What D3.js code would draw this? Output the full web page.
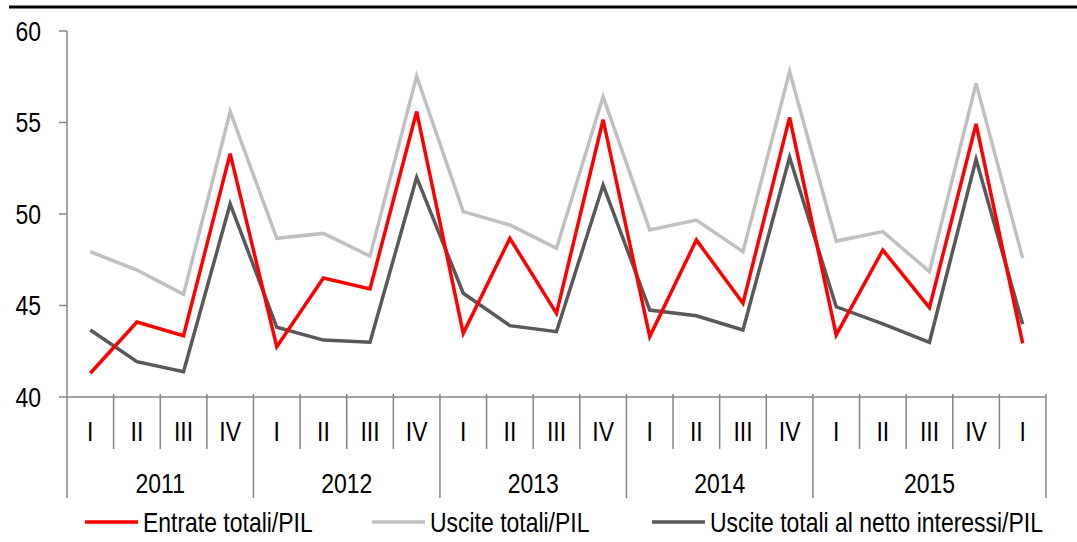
<!DOCTYPE html>
<html><head><meta charset="utf-8">
<script src="https://cdn.jsdelivr.net/npm/d3@7/dist/d3.min.js"></script>
<style>html,body{margin:0;padding:0;background:#fff;}svg{display:block;}</style>
</head><body>
<svg id="c" width="1077" height="542"></svg>
<script>
const quarters = ["I","II","III","IV","I","II","III","IV","I","II","III","IV","I","II","III","IV","I","II","III","IV","I"];
const years = ["2011","2012","2013","2014","2015"];
const yearSpans = [4,4,4,4,5];
const entrate = [41.3,44.1,43.35,53.3,42.75,46.5,45.9,55.6,43.48,48.67,44.57,55.15,43.3,48.58,45.12,55.28,43.39,48.03,44.88,54.92,42.93];
const uscite  = [47.94,46.94,45.61,55.59,48.67,48.94,47.7,57.54,50.13,49.4,48.13,56.41,49.13,49.67,47.94,57.78,48.52,49.04,46.85,57.14,47.58];
const netto   = [43.66,41.93,41.38,50.55,43.81,43.11,42.99,52.0,45.67,43.9,43.57,51.58,44.75,44.44,43.66,53.1,44.93,43.99,42.99,52.99,43.97];
const seriesNames = ["Entrate totali/PIL","Uscite totali/PIL","Uscite totali al netto interessi/PIL"];
const yTicks = [40,45,50,55,60];

const svg = d3.select("#c");
const X0 = 67, X1 = 1046, YB = 397, YT = 31;
const FONT = "'Liberation Sans', Arial, sans-serif", FS = 28, SX = 0.82;
const axisColor = "#868686";

const x = d3.scaleBand().domain(d3.range(quarters.length)).range([X0, X1]).padding(0);
const y = d3.scaleLinear().domain([40,60]).range([YB, YT]);

function label(txt, px, py, anchor){
  const g = svg.append("g").attr("transform", `translate(${px},${py}) scale(${SX},1)`);
  g.append("text").attr("text-anchor", anchor||"middle").attr("dy","0.35em")
    .attr("font-family", FONT).attr("font-size", FS).attr("fill","#000").text(txt);
}

// top rule
svg.append("line").attr("x1",9).attr("x2",1077).attr("y1",7).attr("y2",7)
  .attr("stroke","#000").attr("stroke-width",3);

// y axis
svg.append("line").attr("x1",X0).attr("x2",X0).attr("y1",YT).attr("y2",498)
  .attr("stroke",axisColor).attr("stroke-width",1.5);
yTicks.forEach(t=>{
  svg.append("line").attr("x1",X0-8).attr("x2",X0).attr("y1",y(t)).attr("y2",y(t))
    .attr("stroke",axisColor).attr("stroke-width",1.5);
  label(String(t), 41, y(t), "end");
});

// x axis
svg.append("line").attr("x1",X0).attr("x2",X1).attr("y1",YB).attr("y2",YB)
  .attr("stroke",axisColor).attr("stroke-width",1.5);
const groupStarts = [];
let acc = 0;
yearSpans.forEach(s=>{groupStarts.push(acc); acc+=s;});
quarters.forEach((q,i)=>{
  const xl = x(i);
  if(i>0 && !groupStarts.includes(i)){
    svg.append("line").attr("x1",xl).attr("x2",xl).attr("y1",YB-3).attr("y2",449)
      .attr("stroke",axisColor).attr("stroke-width",1.5);
  }
  label(q, x(i)+x.bandwidth()/2, 431);
});
years.forEach((yr,k)=>{
  const s = groupStarts[k], e = s + yearSpans[k];
  const xs = x(s), xe = (e>=quarters.length)? X1 : x(e);
  if(k>0) svg.append("line").attr("x1",xs).attr("x2",xs).attr("y1",YB-3).attr("y2",498)
      .attr("stroke",axisColor).attr("stroke-width",1.5);
  if(e>=quarters.length) svg.append("line").attr("x1",xe).attr("x2",xe).attr("y1",YB-3).attr("y2",498)
      .attr("stroke",axisColor).attr("stroke-width",1.5);
  label(yr, (xs+xe)/2, 483.5);
});

// lines
const colors = ["#FF0000","#C0C0C0","#595959"];
const order = [1,2,0];
const lineGen = d3.line().x((d,i)=>x(i)+x.bandwidth()/2).y(d=>y(d));
order.forEach(si=>{
  const arr = [entrate, uscite, netto][si];
  svg.append("path").attr("d", lineGen(arr)).attr("fill","none")
    .attr("stroke", colors[si]).attr("stroke-width",3.5).attr("stroke-linejoin","miter");
});

// legend
const legX = [85, 372, 652];
seriesNames.forEach((n,i)=>{
  svg.append("line").attr("x1",legX[i]).attr("x2",legX[i]+53).attr("y1",522).attr("y2",522)
    .attr("stroke",colors[i]).attr("stroke-width",3.5);
  label(n, legX[i]+58, 522.5, "start");
});
</script>
</body></html>
